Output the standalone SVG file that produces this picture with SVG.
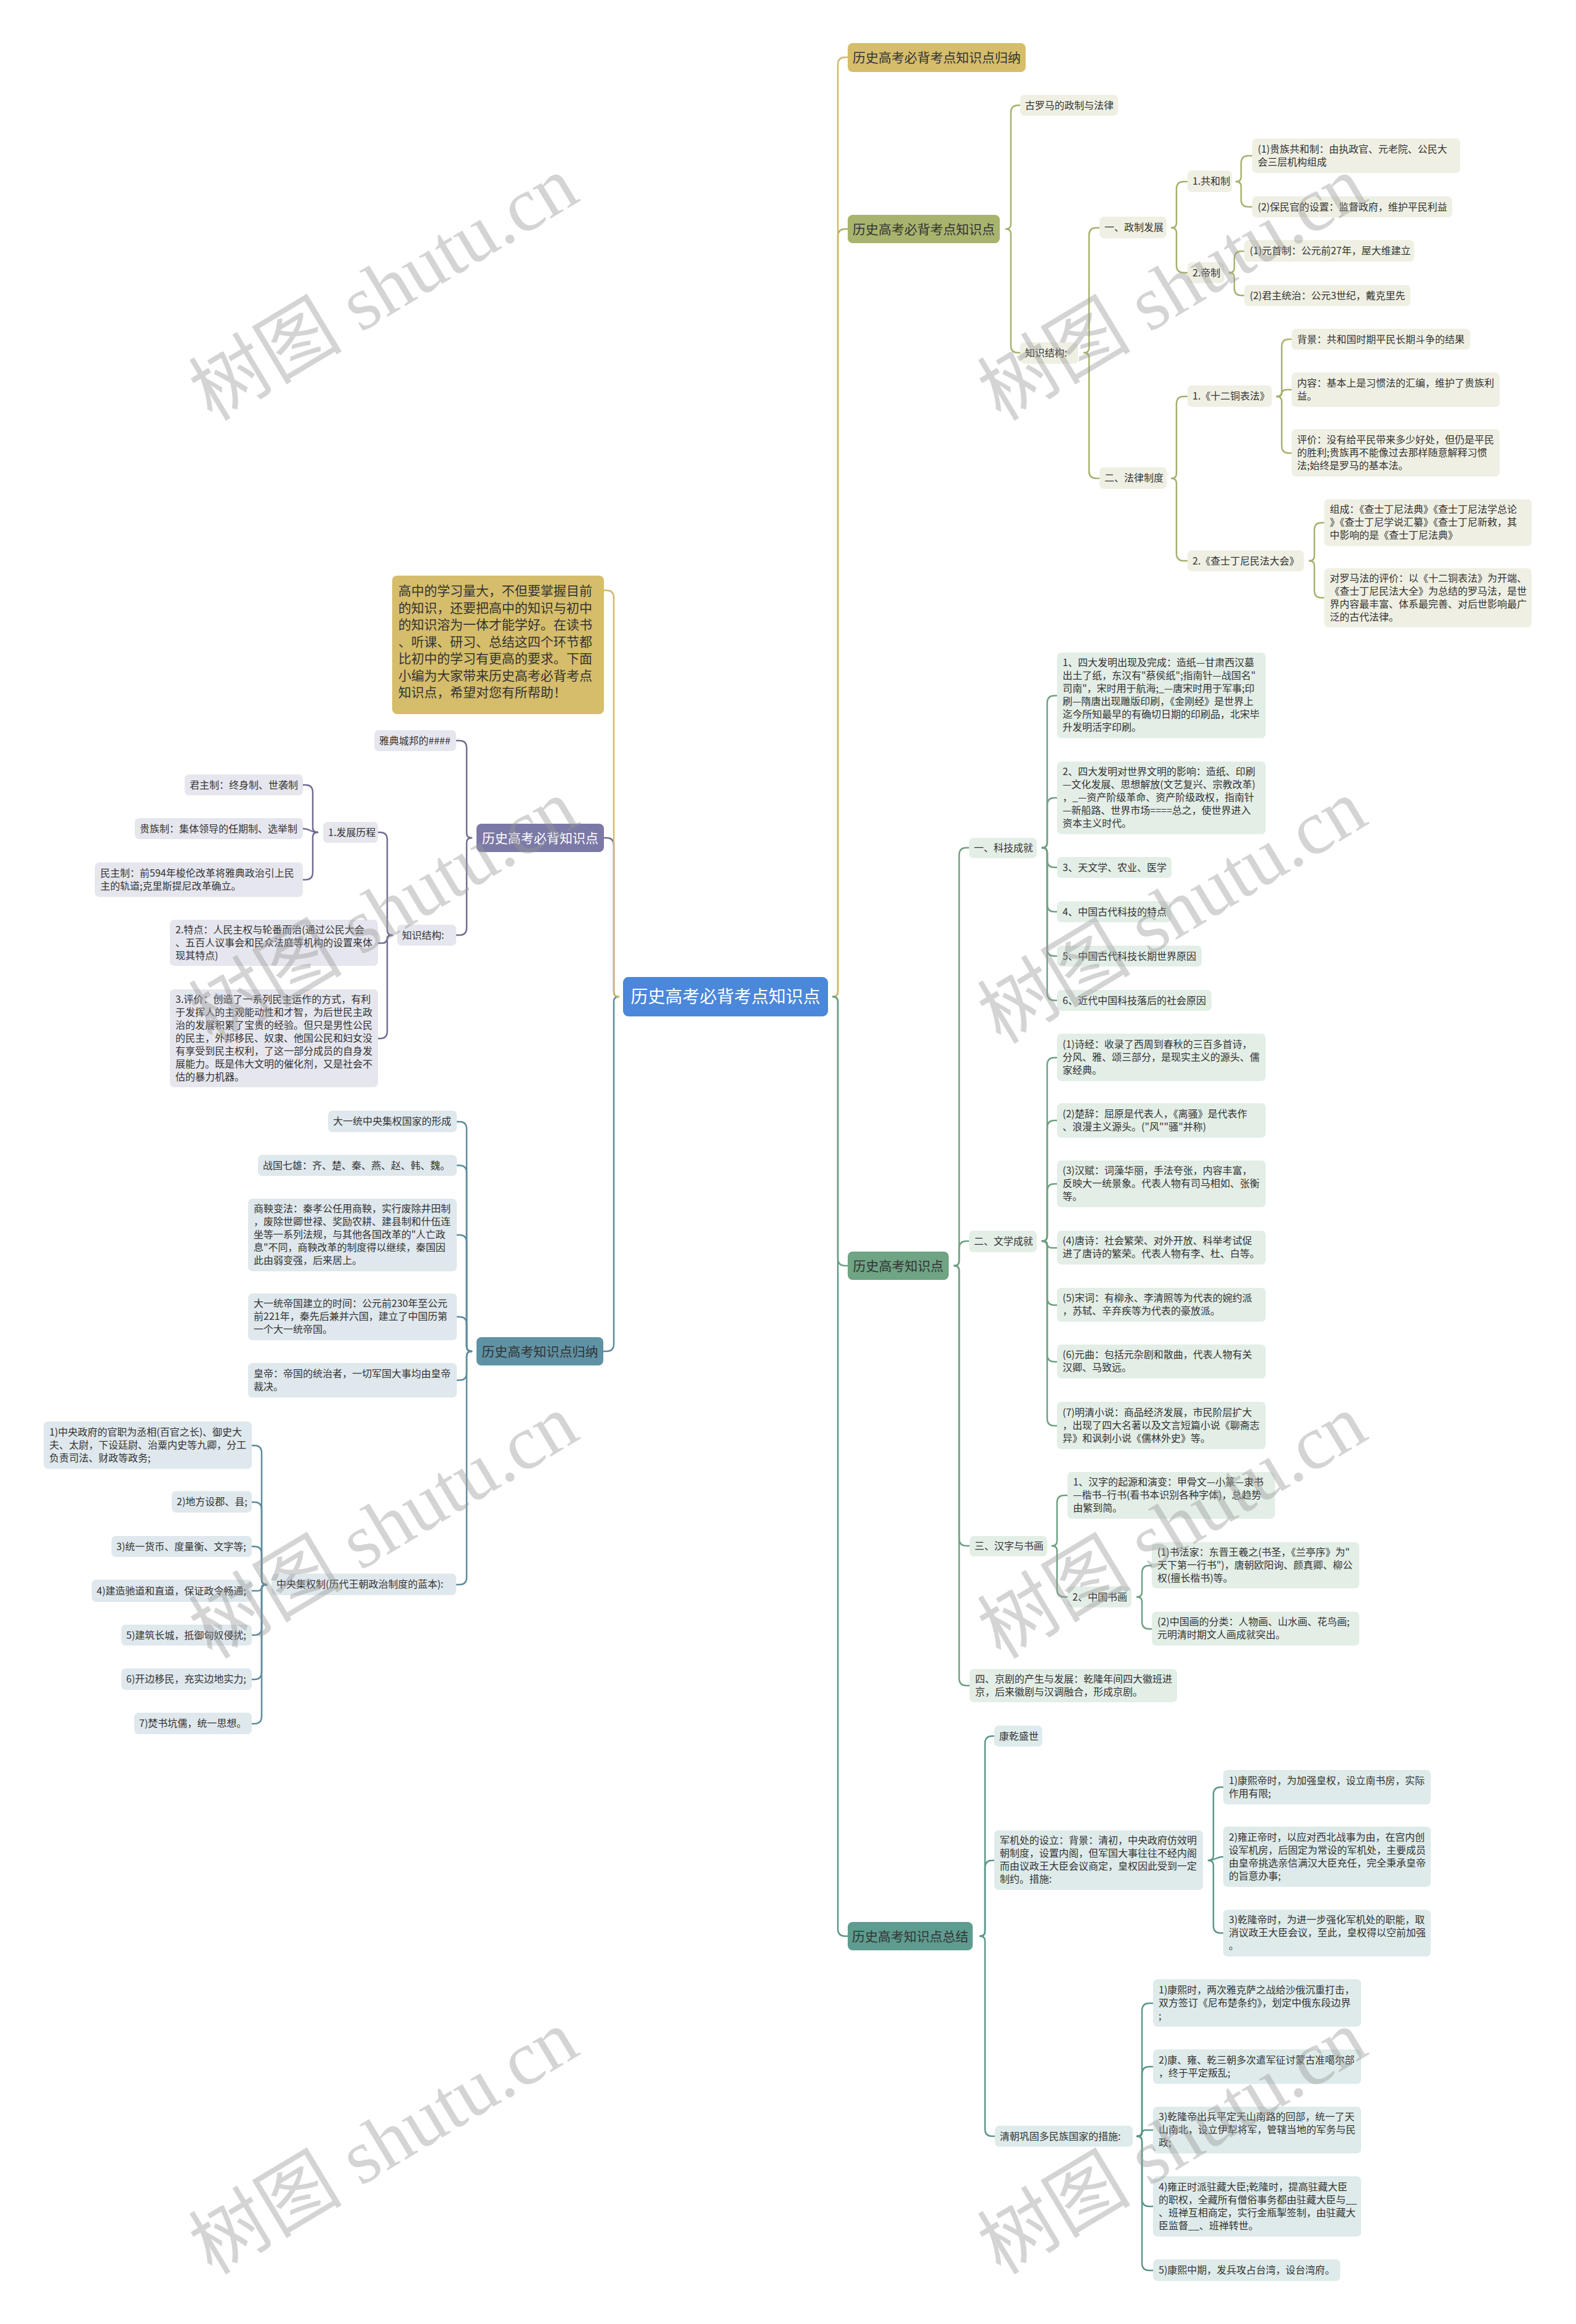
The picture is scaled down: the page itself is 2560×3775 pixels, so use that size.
<svg xmlns="http://www.w3.org/2000/svg" width="2560" height="3775" viewBox="0 0 2560 3775">
<style>
text{font-family:"Noto Sans CJK SC","Noto Sans",sans-serif;font-size:16px;fill:#333}
.m{font-size:21px;text-anchor:middle}
.c{font-size:28px;fill:#fff;text-anchor:middle}
.w{fill:#fff}
.bo{fill:#eff0e3}.bg{fill:#e3eee7}.bt{fill:#deebea}.bp{fill:#e6e6ee}.bs{fill:#dfe8ed}
path{fill:none;stroke-width:2.5;stroke-linecap:round}
.lgd{stroke:#d2b869}.lol{stroke:#a7b06c}.lgr{stroke:#6e9f80}.lte{stroke:#5c9689}.lpu{stroke:#6f6d93}.lst{stroke:#5b8b9c}
.wm{font-family:"Liberation Serif","Noto Sans CJK SC",serif;font-size:125px;fill:#999;fill-opacity:.42;text-anchor:middle}
</style>
<rect width="2560" height="3775" fill="#fff"/>
<g id="connectors">
<path class="lol" d="M1353,1619 Q1361,1619 1361,1611 V384 Q1361,372 1373,372 H1377"/>
<path class="lgd" d="M1353,1619 Q1361,1619 1361,1611 V105 Q1361,93 1373,93 H1377"/>
<path class="lte" d="M1353,1619 Q1361,1619 1361,1627 V3133 Q1361,3145 1373,3145 H1377"/>
<path class="lgr" d="M1353,1619 Q1361,1619 1361,1627 V2044 Q1361,2056 1373,2056 H1377"/>
<path class="lst" d="M1005,1619 Q997,1619 997,1627 V2183 Q997,2195 985,2195 H980"/>
<path class="lpu" d="M1005,1619 Q997,1619 997,1611 V1373 Q997,1361 985,1361 H981"/>
<path class="lgd" d="M1005,1619 Q997,1619 997,1611 V971 Q997,959 985,959 H981"/>
<!-- olive subtree -->
<path class="lol" d="M1634,372 Q1642,372 1642,364 V183 Q1642,171 1654,171 H1657"/>
<path class="lol" d="M1634,372 Q1642,372 1642,380 V561 Q1642,573 1654,573 H1657"/>
<path class="lol" d="M1761,573 Q1769,573 1769,565 V382 Q1769,370 1781,370 H1786"/>
<path class="lol" d="M1761,573 Q1769,573 1769,581 V765 Q1769,777 1781,777 H1786"/>
<path class="lol" d="M1903,370 Q1911,370 1911,362 V307 Q1911,295 1923,295 H1929"/>
<path class="lol" d="M1903,370 Q1911,370 1911,378 V431 Q1911,443 1923,443 H1929"/>
<path class="lol" d="M2008,295 Q2016,295 2016,287 V265 Q2016,253 2028,253 H2034"/>
<path class="lol" d="M2008,295 Q2016,295 2016,303 V324 Q2016,336 2028,336 H2034"/>
<path class="lol" d="M1997,443 Q2005,443 2005,435 V420 Q2005,408 2017,408 H2021"/>
<path class="lol" d="M1997,443 Q2005,443 2005,451 V468 Q2005,480 2017,480 H2021"/>
<path class="lol" d="M1903,777 Q1911,777 1911,769 V656 Q1911,644 1923,644 H1929"/>
<path class="lol" d="M1903,777 Q1911,777 1911,785 V899 Q1911,911 1923,911 H1929"/>
<path class="lol" d="M2074,644 Q2082,644 2082,636 V563 Q2082,551 2094,551 H2098"/>
<path class="lol" d="M2074,644 Q2082,644 2082,640 Q2082,633 2090,633 H2098"/>
<path class="lol" d="M2074,644 Q2082,644 2082,652 V724 Q2082,736 2094,736 H2098"/>
<path class="lol" d="M2127,911 Q2135,911 2135,903 V861 Q2135,849 2147,849 H2151"/>
<path class="lol" d="M2127,911 Q2135,911 2135,919 V959 Q2135,971 2147,971 H2151"/>
<!-- green subtree -->
<path class="lgr" d="M1550,2056 Q1558,2056 1558,2048 V1389 Q1558,1377 1570,1377 H1574"/>
<path class="lgr" d="M1550,2056 Q1558,2056 1558,2048 V2028 Q1558,2016 1570,2016 H1574"/>
<path class="lgr" d="M1550,2056 Q1558,2056 1558,2064 V2499 Q1558,2511 1570,2511 H1575"/>
<path class="lgr" d="M1550,2056 Q1558,2056 1558,2064 V2726 Q1558,2738 1570,2738 H1575"/>
<path class="lgr" d="M1693,1377 Q1701,1377 1701,1369 V1142 Q1701,1130 1713,1130 H1717"/>
<path class="lgr" d="M1693,1377 Q1701,1377 1701,1369 V1308 Q1701,1296 1713,1296 H1717"/>
<path class="lgr" d="M1693,1377 Q1701,1377 1701,1385 V1397 Q1701,1409 1713,1409 H1717"/>
<path class="lgr" d="M1693,1377 Q1701,1377 1701,1385 V1469 Q1701,1481 1713,1481 H1717"/>
<path class="lgr" d="M1693,1377 Q1701,1377 1701,1385 V1541 Q1701,1553 1713,1553 H1717"/>
<path class="lgr" d="M1693,1377 Q1701,1377 1701,1385 V1613 Q1701,1625 1713,1625 H1717"/>
<path class="lgr" d="M1693,2016 Q1701,2016 1701,2008 V1730 Q1701,1718 1713,1718 H1717"/>
<path class="lgr" d="M1693,2016 Q1701,2016 1701,2008 V1832 Q1701,1820 1713,1820 H1717"/>
<path class="lgr" d="M1693,2016 Q1701,2016 1701,2008 V1935 Q1701,1923 1713,1923 H1717"/>
<path class="lgr" d="M1693,2016 Q1701,2016 1701,2020 Q1701,2027 1709,2027 H1717"/>
<path class="lgr" d="M1693,2016 Q1701,2016 1701,2024 V2108 Q1701,2120 1713,2120 H1717"/>
<path class="lgr" d="M1693,2016 Q1701,2016 1701,2024 V2200 Q1701,2212 1713,2212 H1717"/>
<path class="lgr" d="M1693,2016 Q1701,2016 1701,2024 V2304 Q1701,2316 1713,2316 H1717"/>
<path class="lgr" d="M1709,2511 Q1717,2511 1717,2503 V2441 Q1717,2429 1729,2429 H1734"/>
<path class="lgr" d="M1709,2511 Q1717,2511 1717,2519 V2582 Q1717,2594 1729,2594 H1734"/>
<path class="lgr" d="M1847,2594 Q1855,2594 1855,2586 V2555 Q1855,2543 1867,2543 H1871"/>
<path class="lgr" d="M1847,2594 Q1855,2594 1855,2602 V2634 Q1855,2646 1867,2646 H1871"/>
<!-- teal subtree -->
<path class="lte" d="M1592,3145 Q1600,3145 1600,3137 V2832 Q1600,2820 1612,2820 H1615"/>
<path class="lte" d="M1592,3145 Q1600,3145 1600,3137 V3034 Q1600,3022 1612,3022 H1615"/>
<path class="lte" d="M1592,3145 Q1600,3145 1600,3153 V3458 Q1600,3470 1612,3470 H1616"/>
<path class="lte" d="M1963,3022 Q1971,3022 1971,3014 V2915 Q1971,2903 1983,2903 H1987"/>
<path class="lte" d="M1963,3022 C1975,3022 1975,3016 1987,3016"/>
<path class="lte" d="M1963,3022 Q1971,3022 1971,3030 V3128 Q1971,3140 1983,3140 H1987"/>
<path class="lte" d="M1847,3470 Q1855,3470 1855,3462 V3266 Q1855,3254 1867,3254 H1873"/>
<path class="lte" d="M1847,3470 Q1855,3470 1855,3462 V3369 Q1855,3357 1867,3357 H1873"/>
<path class="lte" d="M1847,3470 Q1855,3470 1855,3466 Q1855,3460 1861,3460 H1873"/>
<path class="lte" d="M1847,3470 Q1855,3470 1855,3478 V3572 Q1855,3584 1867,3584 H1873"/>
<path class="lte" d="M1847,3470 Q1855,3470 1855,3478 V3676 Q1855,3688 1867,3688 H1873"/>
<!-- purple subtree -->
<path class="lpu" d="M766,1361 Q758,1361 758,1353 V1215 Q758,1203 746,1203 H741"/>
<path class="lpu" d="M766,1361 Q758,1361 758,1369 V1507 Q758,1519 746,1519 H741"/>
<path class="lpu" d="M637,1519 Q629,1519 629,1511 V1364 Q629,1352 617,1352 H614"/>
<path class="lpu" d="M637,1519 Q629,1519 629,1523 Q629,1532 621,1532 H614"/>
<path class="lpu" d="M637,1519 Q629,1519 629,1527 V1675 Q629,1687 617,1687 H614"/>
<path class="lpu" d="M516,1352 Q508,1352 508,1344 V1287 Q508,1275 496,1275 H492"/>
<path class="lpu" d="M516,1352 C504,1352 504,1346 492,1346"/>
<path class="lpu" d="M516,1352 Q508,1352 508,1360 V1417 Q508,1429 496,1429 H492"/>
<!-- steel subtree -->
<path class="lst" d="M766,2195 Q758,2195 758,2187 V1834 Q758,1822 746,1822 H742"/>
<path class="lst" d="M766,2195 Q758,2195 758,2187 V1905 Q758,1893 746,1893 H742"/>
<path class="lst" d="M766,2195 Q758,2195 758,2187 V2018 Q758,2006 746,2006 H742"/>
<path class="lst" d="M766,2195 Q758,2195 758,2187 V2151 Q758,2139 746,2139 H742"/>
<path class="lst" d="M766,2195 Q758,2195 758,2203 V2230 Q758,2242 746,2242 H742"/>
<path class="lst" d="M766,2195 Q758,2195 758,2203 V2562 Q758,2574 746,2574 H741"/>
<path class="lst" d="M433,2574 Q425,2574 425,2566 V2360 Q425,2348 413,2348 H409"/>
<path class="lst" d="M433,2574 Q425,2574 425,2566 V2452 Q425,2440 413,2440 H409"/>
<path class="lst" d="M433,2574 Q425,2574 425,2566 V2524 Q425,2512 413,2512 H409"/>
<path class="lst" d="M433,2574 Q425,2574 425,2578 Q425,2584 419,2584 H409"/>
<path class="lst" d="M433,2574 Q425,2574 425,2582 V2644 Q425,2656 413,2656 H409"/>
<path class="lst" d="M433,2574 Q425,2574 425,2582 V2716 Q425,2728 413,2728 H409"/>
<path class="lst" d="M433,2574 Q425,2574 425,2582 V2788 Q425,2800 413,2800 H409"/>
</g>

<g id="center"><rect x="1012" y="1587" width="333" height="64" rx="9" fill="#4b87da"/><text class="c" x="1178.5" y="1629">历史高考必背考点知识点</text></g>

<g id="b-gold"><rect x="1377" y="70" width="289" height="47" rx="8" fill="#d5bd6b"/><text class="m" x="1521.5" y="101">历史高考必背考点知识点归纳</text></g>
<g id="b-olive"><rect x="1377" y="349" width="247" height="46" rx="8" fill="#a8b46e"/><text class="m" x="1500.5" y="380">历史高考必背考点知识点</text></g>
<g id="b-green"><rect x="1377" y="2033" width="164" height="46" rx="8" fill="#6fa484"/><text class="m" x="1459" y="2064">历史高考知识点</text></g>
<g id="b-teal"><rect x="1377" y="3122" width="203" height="46" rx="8" fill="#5e9c90"/><text class="m" x="1478.5" y="3153">历史高考知识点总结</text></g>
<g id="b-purple"><rect x="774" y="1338" width="207" height="46" rx="8" fill="#7b79a6"/><text class="m w" x="877.5" y="1369">历史高考必背知识点</text></g>
<g id="b-steel"><rect x="774" y="2172" width="206" height="46" rx="8" fill="#5f92a4"/><text class="m" x="877" y="2203">历史高考知识点归纳</text></g>
<g id="intro"><rect x="637" y="935" width="344" height="225" rx="8" fill="#d5bd6b"/><text x="647" y="967" style="font-size:21px"><tspan x="647">高中的学习量大，不但要掌握目前</tspan><tspan x="647" dy="27.5">的知识，还要把高中的知识与初中</tspan><tspan x="647" dy="27.5">的知识溶为一体才能学好。在读书</tspan><tspan x="647" dy="27.5">、听课、研习、总结这四个环节都</tspan><tspan x="647" dy="27.5">比初中的学习有更高的要求。下面</tspan><tspan x="647" dy="27.5">小编为大家带来历史高考必背考点</tspan><tspan x="647" dy="27.5">知识点，希望对您有所帮助！</tspan></text></g>

<!-- olive nodes -->
<g id="o1"><rect class="bo" x="1657" y="154" width="159" height="34" rx="7"/><text x="1665" y="177">古罗马的政制与法律</text></g>
<g id="o2"><rect class="bo" x="1657" y="556" width="94" height="35" rx="7"/><text x="1665" y="579">知识结构:</text></g>
<g id="o3"><rect class="bo" x="1786" y="352" width="109" height="35" rx="7"/><text x="1794" y="375">一、政制发展</text></g>
<g id="o4"><rect class="bo" x="1786" y="759" width="109" height="35" rx="7"/><text x="1794" y="782">二、法律制度</text></g>
<g id="o5"><rect class="bo" x="1929" y="277" width="72" height="35" rx="7"/><text x="1937" y="300">1.共和制</text></g>
<g id="o6"><rect class="bo" x="1929" y="426" width="60" height="34" rx="7"/><text x="1937" y="449">2.帝制</text></g>
<g id="o7"><rect class="bo" x="2034" y="225" width="338" height="56" rx="7"/><text x="2043" y="247.5"><tspan x="2043">(1)贵族共和制：由执政官、元老院、公民大</tspan><tspan x="2043" dy="21">会三层机构组成</tspan></text></g>
<g id="o8"><rect class="bo" x="2034" y="319" width="325" height="34" rx="7"/><text x="2043" y="342">(2)保民官的设置：监督政府，维护平民利益</text></g>
<g id="o9"><rect class="bo" x="2021" y="390" width="276" height="35" rx="7"/><text x="2030" y="413">(1)元首制：公元前27年，屋大维建立</text></g>
<g id="o10"><rect class="bo" x="2021" y="463" width="270" height="34" rx="7"/><text x="2030" y="486">(2)君主统治：公元3世纪，戴克里先</text></g>
<g id="o11"><rect class="bo" x="1929" y="626" width="137" height="35" rx="7"/><text x="1937" y="649">1.《十二铜表法》</text></g>
<g id="o12"><rect class="bo" x="1929" y="894" width="189" height="34" rx="7"/><text x="1937" y="917">2.《查士丁尼民法大会》</text></g>
<g id="o13"><rect class="bo" x="2098" y="534" width="290" height="34" rx="7"/><text x="2107" y="557">背景：共和国时期平民长期斗争的结果</text></g>
<g id="o14"><rect class="bo" x="2098" y="605" width="338" height="56" rx="7"/><text x="2107" y="627.5"><tspan x="2107">内容：基本上是习惯法的汇编，维护了贵族利</tspan><tspan x="2107" dy="21">益。</tspan></text></g>
<g id="o15"><rect class="bo" x="2098" y="697" width="338" height="77" rx="7"/><text x="2107" y="719.5"><tspan x="2107">评价：没有给平民带来多少好处，但仍是平民</tspan><tspan x="2107" dy="21">的胜利;贵族再不能像过去那样随意解释习惯</tspan><tspan x="2107" dy="21">法;始终是罗马的基本法。</tspan></text></g>
<g id="o16"><rect class="bo" x="2151" y="811" width="337" height="76" rx="7"/><text x="2160" y="833"><tspan x="2160">组成：《查士丁尼法典》《查士丁尼法学总论</tspan><tspan x="2160" dy="21">》《查士丁尼学说汇纂》《查士丁尼新敕，其</tspan><tspan x="2160" dy="21">中影响的是《查士丁尼法典》</tspan></text></g>
<g id="o17"><rect class="bo" x="2151" y="923" width="337" height="96" rx="7"/><text x="2160" y="944.5"><tspan x="2160">对罗马法的评价：以《十二铜表法》为开端、</tspan><tspan x="2160" dy="21">《查士丁尼民法大全》为总结的罗马法，是世</tspan><tspan x="2160" dy="21">界内容最丰富、体系最完善、对后世影响最广</tspan><tspan x="2160" dy="21">泛的古代法律。</tspan></text></g>

<!-- green nodes -->
<g id="g1"><rect class="bg" x="1574" y="1361" width="110" height="33" rx="7"/><text x="1582" y="1383">一、科技成就</text></g>
<g id="g2"><rect class="bg" x="1574" y="1999" width="110" height="35" rx="7"/><text x="1582" y="2022">二、文学成就</text></g>
<g id="g3"><rect class="bg" x="1575" y="2495" width="126" height="33" rx="7"/><text x="1583" y="2517">三、汉字与书画</text></g>
<g id="g4"><rect class="bg" x="1575" y="2711" width="337" height="54" rx="7"/><text x="1584" y="2732.5"><tspan x="1584">四、京剧的产生与发展：乾隆年间四大徽班进</tspan><tspan x="1584" dy="21">京，后来徽剧与汉调融合，形成京剧。</tspan></text></g>
<g id="g5"><rect class="bg" x="1717" y="1060" width="339" height="139" rx="7"/><text x="1726" y="1082"><tspan x="1726">1、四大发明出现及完成：造纸—甘肃西汉墓</tspan><tspan x="1726" dy="21">出土了纸，东汉有"蔡侯纸";指南针—战国名"</tspan><tspan x="1726" dy="21">司南"，宋时用于航海;_—唐宋时用于军事;印</tspan><tspan x="1726" dy="21">刷—隋唐出现雕版印刷，《金刚经》是世界上</tspan><tspan x="1726" dy="21">迄今所知最早的有确切日期的印刷品，北宋毕</tspan><tspan x="1726" dy="21">升发明活字印刷。</tspan></text></g>
<g id="g6"><rect class="bg" x="1717" y="1237" width="339" height="118" rx="7"/><text x="1726" y="1259"><tspan x="1726">2、四大发明对世界文明的影响：造纸、印刷</tspan><tspan x="1726" dy="21">—文化发展、思想解放(文艺复兴、宗教改革)</tspan><tspan x="1726" dy="21">，_—资产阶级革命、资产阶级政权，指南针</tspan><tspan x="1726" dy="21">—新船路、世界市场====总之，使世界进入</tspan><tspan x="1726" dy="21">资本主义时代。</tspan></text></g>
<g id="g7"><rect class="bg" x="1717" y="1392" width="186" height="34" rx="7"/><text x="1726" y="1415">3、天文学、农业、医学</text></g>
<g id="g8"><rect class="bg" x="1717" y="1464" width="186" height="34" rx="7"/><text x="1726" y="1487">4、中国古代科技的特点</text></g>
<g id="g9"><rect class="bg" x="1717" y="1536" width="235" height="34" rx="7"/><text x="1726" y="1559">5、中国古代科技长期世界原因</text></g>
<g id="g10"><rect class="bg" x="1717" y="1608" width="251" height="34" rx="7"/><text x="1726" y="1631">6、近代中国科技落后的社会原因</text></g>
<g id="g11"><rect class="bg" x="1717" y="1679" width="339" height="77" rx="7"/><text x="1726" y="1701.5"><tspan x="1726">(1)诗经：收录了西周到春秋的三百多首诗，</tspan><tspan x="1726" dy="21">分风、雅、颂三部分，是现实主义的源头、儒</tspan><tspan x="1726" dy="21">家经典。</tspan></text></g>
<g id="g12"><rect class="bg" x="1717" y="1792" width="339" height="56" rx="7"/><text x="1726" y="1814.5"><tspan x="1726">(2)楚辞：屈原是代表人，《离骚》是代表作</tspan><tspan x="1726" dy="21">、浪漫主义源头。("风""骚"并称)</tspan></text></g>
<g id="g13"><rect class="bg" x="1717" y="1885" width="339" height="76" rx="7"/><text x="1726" y="1907"><tspan x="1726">(3)汉赋：词藻华丽，手法夸张，内容丰富，</tspan><tspan x="1726" dy="21">反映大一统景象。代表人物有司马相如、张衡</tspan><tspan x="1726" dy="21">等。</tspan></text></g>
<g id="g14"><rect class="bg" x="1717" y="1999" width="339" height="55" rx="7"/><text x="1726" y="2021"><tspan x="1726">(4)唐诗：社会繁荣、对外开放、科举考试促</tspan><tspan x="1726" dy="21">进了唐诗的繁荣。代表人物有李、杜、白等。</tspan></text></g>
<g id="g15"><rect class="bg" x="1717" y="2092" width="339" height="55" rx="7"/><text x="1726" y="2114"><tspan x="1726">(5)宋词：有柳永、李清照等为代表的婉约派</tspan><tspan x="1726" dy="21">，苏轼、辛弃疾等为代表的豪放派。</tspan></text></g>
<g id="g16"><rect class="bg" x="1717" y="2184" width="339" height="55" rx="7"/><text x="1726" y="2206"><tspan x="1726">(6)元曲：包括元杂剧和散曲，代表人物有关</tspan><tspan x="1726" dy="21">汉卿、马致远。</tspan></text></g>
<g id="g17"><rect class="bg" x="1717" y="2277" width="339" height="77" rx="7"/><text x="1726" y="2299.5"><tspan x="1726">(7)明清小说：商品经济发展，市民阶层扩大</tspan><tspan x="1726" dy="21">，出现了四大名著以及文言短篇小说《聊斋志</tspan><tspan x="1726" dy="21">异》和讽刺小说《儒林外史》等。</tspan></text></g>
<g id="g18"><rect class="bg" x="1734" y="2391" width="337" height="76" rx="7"/><text x="1743" y="2413"><tspan x="1743">1、汉字的起源和演变：甲骨文—小篆—隶书</tspan><tspan x="1743" dy="21">—楷书–行书(看书本识别各种字体)，总趋势</tspan><tspan x="1743" dy="21">由繁到简。</tspan></text></g>
<g id="g19"><rect class="bg" x="1734" y="2577" width="104" height="34" rx="7"/><text x="1742" y="2600">2、中国书画</text></g>
<g id="g20"><rect class="bg" x="1871" y="2505" width="337" height="75" rx="7"/><text x="1880" y="2527"><tspan x="1880">(1)书法家：东晋王羲之(书圣，《兰亭序》为"</tspan><tspan x="1880" dy="21">天下第一行书")，唐朝欧阳询、颜真卿、柳公</tspan><tspan x="1880" dy="21">权(擅长楷书)等。</tspan></text></g>
<g id="g21"><rect class="bg" x="1871" y="2618" width="337" height="55" rx="7"/><text x="1880" y="2640"><tspan x="1880">(2)中国画的分类：人物画、山水画、花鸟画;</tspan><tspan x="1880" dy="21">元明清时期文人画成就突出。</tspan></text></g>

<!-- teal nodes -->
<g id="t1"><rect class="bt" x="1615" y="2803" width="78" height="34" rx="7"/><text x="1623" y="2826">康乾盛世</text></g>
<g id="t2"><rect class="bt" x="1615" y="2973" width="339" height="97" rx="7"/><text x="1624" y="2995"><tspan x="1624">军机处的设立：背景：清初，中央政府仿效明</tspan><tspan x="1624" dy="21">朝制度，设置内阁，但军国大事往往不经内阁</tspan><tspan x="1624" dy="21">而由议政王大臣会议商定，皇权因此受到一定</tspan><tspan x="1624" dy="21">制约。措施:</tspan></text></g>
<g id="t3"><rect class="bt" x="1987" y="2875" width="337" height="56" rx="7"/><text x="1996" y="2897.5"><tspan x="1996">1)康熙帝时，为加强皇权，设立南书房，实际</tspan><tspan x="1996" dy="21">作用有限;</tspan></text></g>
<g id="t4"><rect class="bt" x="1987" y="2967" width="337" height="98" rx="7"/><text x="1996" y="2990"><tspan x="1996">2)雍正帝时，以应对西北战事为由，在宫内创</tspan><tspan x="1996" dy="21">设军机房，后固定为常设的军机处，主要成员</tspan><tspan x="1996" dy="21">由皇帝挑选亲信满汉大臣充任，完全秉承皇帝</tspan><tspan x="1996" dy="21">的旨意办事;</tspan></text></g>
<g id="t5"><rect class="bt" x="1987" y="3102" width="337" height="76" rx="7"/><text x="1996" y="3124"><tspan x="1996">3)乾隆帝时，为进一步强化军机处的职能，取</tspan><tspan x="1996" dy="21">消议政王大臣会议，至此，皇权得以空前加强</tspan><tspan x="1996" dy="21">。</tspan></text></g>
<g id="t6"><rect class="bt" x="1616" y="3453" width="224" height="34" rx="7"/><text x="1624" y="3476">清朝巩固多民族国家的措施:</text></g>
<g id="t7"><rect class="bt" x="1873" y="3215" width="338" height="77" rx="7"/><text x="1882" y="3237.5"><tspan x="1882">1)康熙时，两次雅克萨之战给沙俄沉重打击，</tspan><tspan x="1882" dy="21">双方签订《尼布楚条约》，划定中俄东段边界</tspan><tspan x="1882" dy="21">;</tspan></text></g>
<g id="t8"><rect class="bt" x="1873" y="3329" width="338" height="56" rx="7"/><text x="1882" y="3351.5"><tspan x="1882">2)康、雍、乾三朝多次遣军征讨蒙古准噶尔部</tspan><tspan x="1882" dy="21">，终于平定叛乱;</tspan></text></g>
<g id="t9"><rect class="bt" x="1873" y="3422" width="338" height="76" rx="7"/><text x="1882" y="3444"><tspan x="1882">3)乾隆帝出兵平定天山南路的回部，统一了天</tspan><tspan x="1882" dy="21">山南北，设立伊犁将军，管辖当地的军务与民</tspan><tspan x="1882" dy="21">政;</tspan></text></g>
<g id="t10"><rect class="bt" x="1873" y="3535" width="338" height="98" rx="7"/><text x="1882" y="3558"><tspan x="1882">4)雍正时派驻藏大臣;乾隆时，提高驻藏大臣</tspan><tspan x="1882" dy="21">的职权，全藏所有僧俗事务都由驻藏大臣与__</tspan><tspan x="1882" dy="21">、班禅互相商定，实行金瓶掣签制，由驻藏大</tspan><tspan x="1882" dy="21">臣监督__、班禅转世。</tspan></text></g>
<g id="t11"><rect class="bt" x="1873" y="3670" width="304" height="35" rx="7"/><text x="1882" y="3693">5)康熙中期，发兵攻占台湾，设台湾府。</text></g>

<!-- purple nodes -->
<g id="p1"><rect class="bp" x="608" y="1186" width="133" height="34" rx="7"/><text x="616" y="1209">雅典城邦的####</text></g>
<g id="p2"><rect class="bp" x="645" y="1502" width="96" height="34" rx="7"/><text x="653" y="1525">知识结构:</text></g>
<g id="p3"><rect class="bp" x="525" y="1335" width="89" height="34" rx="7"/><text x="533" y="1358">1.发展历程</text></g>
<g id="p4"><rect class="bp" x="300" y="1258" width="192" height="34" rx="7"/><text x="308" y="1281">君主制：终身制、世袭制</text></g>
<g id="p5"><rect class="bp" x="219" y="1329" width="273" height="34" rx="7"/><text x="227" y="1352">贵族制：集体领导的任期制、选举制</text></g>
<g id="p6"><rect class="bp" x="154" y="1401" width="338" height="56" rx="7"/><text x="163" y="1423.5"><tspan x="163">民主制：前594年梭伦改革将雅典政治引上民</tspan><tspan x="163" dy="21">主的轨道;克里斯提尼改革确立。</tspan></text></g>
<g id="p7"><rect class="bp" x="276" y="1494" width="338" height="75" rx="7"/><text x="285" y="1516"><tspan x="285">2.特点：人民主权与轮番而治(通过公民大会</tspan><tspan x="285" dy="21">、五百人议事会和民众法庭等机构的设置来体</tspan><tspan x="285" dy="21">现其特点)</tspan></text></g>
<g id="p8"><rect class="bp" x="276" y="1607" width="338" height="159" rx="7"/><text x="285" y="1629"><tspan x="285">3.评价：创造了一系列民主运作的方式，有利</tspan><tspan x="285" dy="21">于发挥人的主观能动性和才智，为后世民主政</tspan><tspan x="285" dy="21">治的发展积累了宝贵的经验。但只是男性公民</tspan><tspan x="285" dy="21">的民主，外邦移民、奴隶、他国公民和妇女没</tspan><tspan x="285" dy="21">有享受到民主权利，了这一部分成员的自身发</tspan><tspan x="285" dy="21">展能力。既是伟大文明的催化剂，又是社会不</tspan><tspan x="285" dy="21">估的暴力机器。</tspan></text></g>

<!-- steel nodes -->
<g id="s1"><rect class="bs" x="533" y="1804" width="209" height="35" rx="7"/><text x="541" y="1827">大一统中央集权国家的形成</text></g>
<g id="s2"><rect class="bs" x="419" y="1876" width="323" height="34" rx="7"/><text x="427" y="1899">战国七雄：齐、楚、秦、燕、赵、韩、魏。</text></g>
<g id="s3"><rect class="bs" x="403" y="1947" width="339" height="118" rx="7"/><text x="412" y="1969"><tspan x="412">商鞅变法：秦孝公任用商鞅，实行废除井田制</tspan><tspan x="412" dy="21">，废除世卿世禄、奖励农耕、建县制和什伍连</tspan><tspan x="412" dy="21">坐等一系列法规，与其他各国改革的"人亡政</tspan><tspan x="412" dy="21">息"不同，商鞅改革的制度得以继续，秦国因</tspan><tspan x="412" dy="21">此由弱变强，后来居上。</tspan></text></g>
<g id="s4"><rect class="bs" x="403" y="2101" width="339" height="76" rx="7"/><text x="412" y="2123"><tspan x="412">大一统帝国建立的时间：公元前230年至公元</tspan><tspan x="412" dy="21">前221年，秦先后兼并六国，建立了中国历第</tspan><tspan x="412" dy="21">一个大一统帝国。</tspan></text></g>
<g id="s5"><rect class="bs" x="403" y="2214" width="339" height="56" rx="7"/><text x="412" y="2236.5"><tspan x="412">皇帝：帝国的统治者，一切军国大事均由皇帝</tspan><tspan x="412" dy="21">裁决。</tspan></text></g>
<g id="s6"><rect class="bs" x="441" y="2556" width="300" height="35" rx="7"/><text x="449" y="2579">中央集权制(历代王朝政治制度的蓝本):</text></g>
<g id="s7"><rect class="bs" x="71" y="2309" width="338" height="77" rx="7"/><text x="80" y="2331.5"><tspan x="80">1)中央政府的官职为丞相(百官之长)、御史大</tspan><tspan x="80" dy="21">夫、太尉，下设廷尉、治粟内史等九卿，分工</tspan><tspan x="80" dy="21">负责司法、财政等政务;</tspan></text></g>
<g id="s8"><rect class="bs" x="279" y="2422" width="130" height="35" rx="7"/><text x="287" y="2445">2)地方设郡、县;</text></g>
<g id="s9"><rect class="bs" x="181" y="2495" width="228" height="34" rx="7"/><text x="189" y="2518">3)统一货币、度量衡、文字等;</text></g>
<g id="s10"><rect class="bs" x="149" y="2566" width="260" height="36" rx="7"/><text x="157" y="2590">4)建造驰道和直道，保证政令畅通;</text></g>
<g id="s11"><rect class="bs" x="197" y="2639" width="212" height="34" rx="7"/><text x="205" y="2662">5)建筑长城，抵御匈奴侵扰;</text></g>
<g id="s12"><rect class="bs" x="197" y="2710" width="212" height="35" rx="7"/><text x="205" y="2733">6)开边移民，充实边地实力;</text></g>
<g id="s13"><rect class="bs" x="218" y="2782" width="191" height="35" rx="7"/><text x="226" y="2805">7)焚书坑儒，统一思想。</text></g>

<g id="watermarks">
<text class="wm" transform="translate(645,505) rotate(-31)">树图 shutu.cn</text>
<text class="wm" transform="translate(1926,505) rotate(-31)">树图 shutu.cn</text>
<text class="wm" transform="translate(645,1517) rotate(-31)">树图 shutu.cn</text>
<text class="wm" transform="translate(1926,1517) rotate(-31)">树图 shutu.cn</text>
<text class="wm" transform="translate(645,2516) rotate(-31)">树图 shutu.cn</text>
<text class="wm" transform="translate(1926,2516) rotate(-31)">树图 shutu.cn</text>
<text class="wm" transform="translate(645,3516) rotate(-31)">树图 shutu.cn</text>
<text class="wm" transform="translate(1926,3516) rotate(-31)">树图 shutu.cn</text>
</g>
</svg>
